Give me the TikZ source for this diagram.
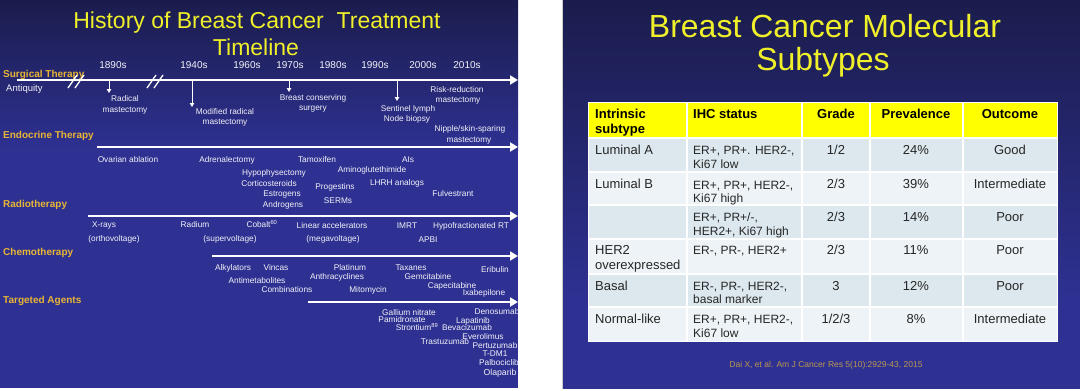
\documentclass[tikz,border=0pt]{standalone}
\usepackage{fontspec}
\setmainfont{Liberation Sans}
\usetikzlibrary{arrows.meta}
\definecolor{navytop}{HTML}{1B1C4C}
\definecolor{navybot}{HTML}{2E3192}
\definecolor{ttlyel}{HTML}{F0F02A}
\definecolor{rowlbl}{HTML}{E8B535}
\definecolor{txtw}{HTML}{F2F2F7}
\definecolor{rowdark}{HTML}{DCE8EE}
\definecolor{rowlight}{HTML}{EDF3F6}
\definecolor{hdryel}{HTML}{FFFF00}
\definecolor{tabtxt}{HTML}{262626}
\definecolor{citec}{HTML}{BC9850}
\begin{document}
\begin{tikzpicture}[x=1pt,y=-1pt,
  lbl/.style={anchor=base west,inner sep=0pt,text=rowlbl,font=\bfseries\fontsize{10}{12}\selectfont},
  yr/.style={anchor=base,inner sep=0pt,text=txtw,font=\fontsize{10}{12}\selectfont},
  t/.style={anchor=base,inner sep=0pt,text=txtw,font=\fontsize{8.3}{10}\selectfont},
  tlarrow/.style={draw=white,line width=2.6pt,-{Triangle[length=8pt,width=9pt]}},
  dnarrow/.style={draw=white,line width=1pt,-{Triangle[length=4pt,width=4.5pt]}},
  brk/.style={draw=white,line width=1.3pt},
  ttl/.style={anchor=base,inner sep=0pt,text=ttlyel},
  th/.style={anchor=base,inner sep=0pt,text=black,font=\bfseries\fontsize{13}{15}\selectfont},
  td/.style={anchor=base,inner sep=0pt,text=tabtxt,font=\fontsize{13}{15}\selectfont},
  tdi/.style={anchor=base west,inner sep=0pt,text=tabtxt,font=\fontsize{12}{14}\selectfont},
  sep/.style={draw=white,line width=1.5pt}
]
\useasboundingbox (0,0) rectangle (1080,391);
\fill[white] (0,0) rectangle (1080,391);
% ---------------- left slide background
\fill[navybot] (0,0) rectangle (518,388);
\shade[top color=navytop,bottom color=navybot] (0,0) rectangle (518,150);
% ---------------- right slide background
\fill[navybot] (563,0) rectangle (1080,389);
\shade[top color=navytop,bottom color=navybot] (563,0) rectangle (1080,300);
\draw[gray!40,line width=0.8pt] (562.5,0) -- (562.5,389);

% ================= LEFT SLIDE
\node[ttl,font=\fontsize{23}{27}\selectfont] (T1) at (257,28) {History of Breast Cancer\ \ Treatment};
\node[ttl,font=\fontsize{23}{27}\selectfont] (T2) at (256,55) {Timeline};

\node[lbl] (Ls) at (3,77) {Surgical Therapy};
\node[lbl] (Le) at (3,138) {Endocrine Therapy};
\node[lbl] (Lr) at (3,207) {Radiotherapy};
\node[lbl] (Lc) at (3,255) {Chemotherapy};
\node[lbl] (Lt) at (3,303) {Targeted Agents};

\node[t,anchor=base west,font=\fontsize{9.5}{11}\selectfont] (ant) at (6,91.5) {Antiquity};

% decades
\node[yr] (y1890) at (113,68.6) {1890s};
\node[yr] (y1940) at (194,68.6) {1940s};
\node[yr] (y1960) at (247,68.6) {1960s};
\node[yr] (y1970) at (290,68.6) {1970s};
\node[yr] (y1980) at (333,68.6) {1980s};
\node[yr] (y1990) at (375,68.6) {1990s};
\node[yr] (y2000) at (423,68.6) {2000s};
\node[yr] (y2010) at (467,68.6) {2010s};

% surgical timeline
\coordinate (sA) at (17,80);
\coordinate (sB) at (518,80);
\draw[tlarrow] (sA) -- (sB);
\draw[brk] (68,88) -- (77,75);
\draw[brk] (75,88) -- (84,75);
\draw[brk] (147,88) -- (156,75);
\draw[brk] (154,88) -- (163,75);
\coordinate (d1a) at (109,80); \coordinate (d1b) at (109,93);
\coordinate (d2a) at (192,80); \coordinate (d2b) at (192,107);
\coordinate (d3a) at (289,80); \coordinate (d3b) at (289,92);
\coordinate (d4a) at (397,80); \coordinate (d4b) at (397,101);
\draw[dnarrow] (d1a) -- (d1b);
\draw[dnarrow] (d2a) -- (d2b);
\draw[dnarrow] (d3a) -- (d3b);
\draw[dnarrow] (d4a) -- (d4b);
\node[t] (s1a) at (125,101) {Radical};
\node[t] (s1b) at (125,112) {mastectomy};
\node[t] (s2a) at (225,114) {Modified radical};
\node[t] (s2b) at (225,124.5) {mastectomy};
\node[t] (s3a) at (313,100) {Breast conserving};
\node[t] (s3b) at (313,110) {surgery};
\node[t] (s4a) at (408,111) {Sentinel lymph};
\node[t] (s4b) at (407,121) {Node biopsy};
\node[t] (s5a) at (457,92) {Risk-reduction};
\node[t] (s5b) at (458,102) {mastectomy};
\node[t] (s6a) at (470,131) {Nipple/skin-sparing};
\node[t] (s6b) at (469,142) {mastectomy};

% endocrine
\coordinate (eA) at (97,147);
\coordinate (eB) at (518,147);
\draw[tlarrow] (eA) -- (eB);
\node[t] (e1) at (128,162) {Ovarian ablation};
\node[t] (e2) at (227,162) {Adrenalectomy};
\node[t] (e3) at (274,175) {Hypophysectomy};
\node[t] (e4) at (269,186) {Corticosteroids};
\node[t] (e5) at (282,196.5) {Estrogens};
\node[t] (e6) at (283,207) {Androgens};
\node[t] (e7) at (317,162) {Tamoxifen};
\node[t] (e8) at (408,162) {AIs};
\node[t] (e9) at (372,172.5) {Aminoglutethimide};
\node[t] (e10) at (335,189) {Progestins};
\node[t] (e11) at (397,185) {LHRH analogs};
\node[t] (e12) at (338,203) {SERMs};
\node[t] (e13) at (453,196) {Fulvestrant};

% radiotherapy
\coordinate (rA) at (88,216);
\coordinate (rB) at (518,216);
\draw[tlarrow] (rA) -- (rB);
\node[t] (r1) at (104,227.5) {X-rays};
\node[t] (r2) at (114,241) {(orthovoltage)};
\node[t] (r3) at (195,227.5) {Radium};
\node[t] (r4) at (230,241) {(supervoltage)};
\node[t] (r5) at (262,227.5) {Cobalt\textsuperscript{60}};
\node[t] (r6) at (332,228) {Linear accelerators};
\node[t] (r7) at (333,241) {(megavoltage)};
\node[t] (r8) at (407,228) {IMRT};
\node[t] (r9) at (471,228) {Hypofractionated RT};
\node[t] (r10) at (428,242) {APBI};

% chemotherapy
\coordinate (cA) at (212,256);
\coordinate (cB) at (518,256);
\draw[tlarrow] (cA) -- (cB);
\node[t] (c1) at (233,270) {Alkylators};
\node[t] (c2) at (276,270) {Vincas};
\node[t] (c3) at (257,283) {Antimetabolites};
\node[t] (c4) at (287,292) {Combinations};
\node[t] (c5) at (350,270) {Platinum};
\node[t] (c6) at (337,279) {Anthracyclines};
\node[t] (c7) at (368,292) {Mitomycin};
\node[t] (c8) at (411,270) {Taxanes};
\node[t] (c9) at (428,279) {Gemcitabine};
\node[t] (c10) at (452,288) {Capecitabine};
\node[t] (c11) at (484,295) {Ixabepilone};
\node[t] (c12) at (495,272) {Eribulin};

% targeted agents
\coordinate (aA) at (308,302);
\coordinate (aB) at (518,302);
\draw[tlarrow] (aA) -- (aB);
\node[t] (a1) at (409,315) {Gallium nitrate};
\node[t] (a2) at (402,322.5) {Pamidronate};
\node[t] (a3) at (417,330.5) {Strontium\textsuperscript{89}};
\node[t] (a4) at (445,344) {Trastuzumab};
\node[t] (a5) at (497,314) {Denosumab};
\node[t] (a6) at (473,323) {Lapatinib};
\node[t] (a7) at (467,330.5) {Bevacizumab};
\node[t] (a8) at (483,339) {Everolimus};
\node[t] (a9) at (495,348) {Pertuzumab};
\node[t] (a10) at (495,356) {T-DM1};
\node[t] (a11) at (499,365) {Palbociclib};
\node[t,font=\fontsize{8.7}{10}\selectfont] (a12) at (500,375) {Olaparib};

% ================= RIGHT SLIDE
\node[ttl,font=\fontsize{32}{36}\selectfont] (R1) at (825,37) {Breast Cancer Molecular};
\node[ttl,font=\fontsize{32}{36}\selectfont] (R2) at (823,70) {Subtypes};

% table backgrounds
\fill[hdryel] (588,102) rectangle (1057,138);
\fill[rowdark] (588,138) rectangle (1057,172);
\fill[rowlight] (588,172) rectangle (1057,205);
\fill[rowdark] (588,205) rectangle (1057,239);
\fill[rowlight] (588,239) rectangle (1057,274);
\fill[rowdark] (588,274) rectangle (1057,307);
\fill[rowlight] (588,307) rectangle (1057,341);
\foreach \yy in {138,172,205,239,274,307} \draw[sep] (588,\yy) -- (1057,\yy);
\foreach \xx in {687,802,870,963} \draw[sep] (\xx,102) -- (\xx,341);
\draw[white,line width=1pt] (588,102) rectangle (1057,341);

% header
\node[th,anchor=base west] (h1a) at (595,118) {Intrinsic};
\node[th,anchor=base west] (h1b) at (595,133) {subtype};
\node[th,anchor=base west] (h2) at (693,118) {IHC status};
\node[th] (h3) at (836,118) {Grade};
\node[th] (h4) at (916,118) {Prevalence};
\node[th] (h5) at (1010,118) {Outcome};

% row 1
\node[td,anchor=base west] (r1n) at (595,154) {Luminal A};
\node[tdi] (r1i) at (693,154) {ER+, PR+. HER2-,};
\node[tdi] (r1j) at (693,168) {Ki67 low};
\node[td] (r1g) at (836,154) {1/2};
\node[td] (r1p) at (916,154) {24\%};
\node[td] (r1o) at (1010,154) {Good};
% row 2
\node[td,anchor=base west] (r2n) at (595,188) {Luminal B};
\node[tdi] (r2i) at (693,189) {ER+, PR+, HER2-,};
\node[tdi] (r2j) at (693,202.5) {Ki67 high};
\node[td] (r2g) at (836,188) {2/3};
\node[td] (r2p) at (916,188) {39\%};
\node[td] (r2o) at (1010,188) {Intermediate};
% row 3
\node[tdi] (r3i) at (693,221) {ER+, PR+/-,};
\node[tdi] (r3j) at (693,235) {HER2+, Ki67 high};
\node[td] (r3g) at (836,221) {2/3};
\node[td] (r3p) at (916,221) {14\%};
\node[td] (r3o) at (1010,221) {Poor};
% row 4
\node[td,anchor=base west] (r4n) at (595,254.5) {HER2};
\node[td,anchor=base west] (r4m) at (595,269.5) {overexpressed};
\node[tdi] (r4i) at (693,254.5) {ER-, PR-, HER2+};
\node[td] (r4g) at (836,254.5) {2/3};
\node[td] (r4p) at (916,254.5) {11\%};
\node[td] (r4o) at (1010,254.5) {Poor};
% row 5
\node[td,anchor=base west] (r5n) at (595,290) {Basal};
\node[tdi] (r5i) at (693,290) {ER-, PR-, HER2-,};
\node[tdi] (r5j) at (693,303.5) {basal marker};
\node[td] (r5g) at (836,290) {3};
\node[td] (r5p) at (916,290) {12\%};
\node[td] (r5o) at (1010,290) {Poor};
% row 6
\node[td,anchor=base west] (r6n) at (595,323) {Normal-like};
\node[tdi] (r6i) at (693,323) {ER+, PR+, HER2-,};
\node[tdi] (r6j) at (693,337) {Ki67 low};
\node[td] (r6g) at (836,323) {1/2/3};
\node[td] (r6p) at (916,323) {8\%};
\node[td] (r6o) at (1010,323) {Intermediate};

\node[anchor=base,inner sep=0pt,text=citec,font=\fontsize{8.5}{10}\selectfont] (cite) at (826,367) {Dai X, et al. Am J Cancer Res 5(10):2929-43, 2015};
\end{tikzpicture}
\end{document}
